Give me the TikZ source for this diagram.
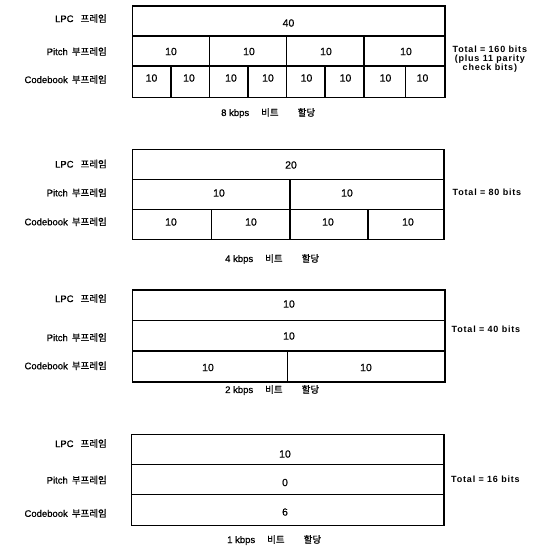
\documentclass[tikz,border=0pt]{standalone}
\usepackage{fontspec}
\setmainfont{Liberation Sans}
\newfontfamily\kr{Noto Sans CJK KR}[FakeBold=0.8]
\newfontfamily\heavy{Liberation Sans}[FakeBold=0.6]
\newfontfamily\totfont{Liberation Sans}[LetterSpace=9]
\tikzset{
  box/.style={line width=1.5pt, line join=miter},
  lab/.style={anchor=east, inner sep=0pt, font=\heavy\fontsize{9.5}{10}\selectfont},
  num/.style={inner sep=0pt, font=\heavy\fontsize{10.5}{11}\selectfont},
  tot/.style={anchor=west, inner sep=0pt, align=center, font=\totfont\bfseries\fontsize{9}{9}\selectfont},
  capt/.style={anchor=west, inner sep=0pt, font=\heavy\fontsize{9.5}{10}\selectfont},
}
\newcommand{\lpclab}{LPC\hspace{7pt}{\kr 프레임}}
\newcommand{\pitchlab}{Pitch\hspace{4pt}{\kr 부프레임}}
\newcommand{\cblab}{Codebook\hspace{4pt}{\kr 부프레임}}
\newcommand{\captxt}[1]{#1 kbps\hspace{12pt}{\kr 비트}\hspace{19pt}{\kr 할당}}
\begin{document}
\begin{tikzpicture}[x=1pt,y=-1pt]
\useasboundingbox (0,0) rectangle (553,550);
% ---------- Block 1: 8 kbps ----------
\draw[box] (132.5,6) rectangle (445,97.5);
\draw[box] (132.5,36) -- (445,36);
\draw[box] (132.5,66) -- (445,66);
\foreach \x in {209.5,286.5,364} \draw[box] (\x,36) -- (\x,97.5);
\foreach \x in {171,248,325,405.5} \draw[box] (\x,66) -- (\x,97.5);
\node[lab] (a1) at (107,18.5) {\lpclab};
\node[lab] (a2) at (107,51.5) {\pitchlab};
\node[lab] (a3) at (107,79.5) {\cblab};
\node[num] (n1) at (288.5,23) {40};
\node[num] (p11) at (171,51.5) {10};
\node[num] (p12) at (249,51.5) {10};
\node[num] (p13) at (326,51.5) {10};
\node[num] (p14) at (406,51.5) {10};
\node[num] (c11) at (151.5,78) {10};
\node[num] (c12) at (189,78) {10};
\node[num] (c13) at (231,78) {10};
\node[num] (c14) at (268,78) {10};
\node[num] (c15) at (306.5,78) {10};
\node[num] (c16) at (345.5,78) {10};
\node[num] (c17) at (385.5,78) {10};
\node[num] (c18) at (422.5,78) {10};
\node[tot] (t1) at (452.5,59) {Total = 160 bits\\(plus 11 parity\\check bits)};
\node[capt] (k1) at (221,113) {\captxt{8}};
% ---------- Block 2: 4 kbps ----------
\draw[box] (132.5,149.3) rectangle (444,239.3);
\draw[box] (132.5,179.3) -- (444,179.3);
\draw[box] (132.5,209.3) -- (444,209.3);
\draw[box] (290,179.3) -- (290,239.3);
\foreach \x in {211.5,368} \draw[box] (\x,209.3) -- (\x,239.3);
\node[lab] (b1) at (107,164) {\lpclab};
\node[lab] (b2) at (107,192.7) {\pitchlab};
\node[lab] (b3) at (107,221.7) {\cblab};
\node[num] (n2) at (291,165) {20};
\node[num] (p21) at (219,193) {10};
\node[num] (p22) at (347,193) {10};
\node[num] (c21) at (171,222) {10};
\node[num] (c22) at (251,222) {10};
\node[num] (c23) at (328,222) {10};
\node[num] (c24) at (408,222) {10};
\node[tot] (t2) at (452.5,192) {Total = 80 bits};
\node[capt] (k2) at (225,259) {\captxt{4}};
% ---------- Block 3: 2 kbps ----------
\draw[box] (132.5,290) rectangle (445,382);
\draw[box] (132.5,320.5) -- (445,320.5);
\draw[box] (132.5,351) -- (445,351);
\draw[box] (287.5,351) -- (287.5,382);
\node[lab] (d1) at (107,298.5) {\lpclab};
\node[lab] (d2) at (107,337.5) {\pitchlab};
\node[lab] (d3) at (107,365.7) {\cblab};
\node[num] (n3) at (289,304) {10};
\node[num] (p31) at (289,336) {10};
\node[num] (c31) at (208,367.5) {10};
\node[num] (c32) at (366,367.5) {10};
\node[tot] (t3) at (451.5,329) {Total = 40 bits};
\node[capt] (k3) at (225,390) {\captxt{2}};
% ---------- Block 4: 1 kbps ----------
\draw[box] (131.7,434.3) rectangle (444,525.7);
\draw[box] (131.7,464.3) -- (444,464.3);
\draw[box] (131.7,494.3) -- (444,494.3);
\node[lab] (e1) at (107,443.5) {\lpclab};
\node[lab] (e2) at (107,480) {\pitchlab};
\node[lab] (e3) at (107,513.3) {\cblab};
\node[num] (n4) at (285,454) {10};
\node[num] (p41) at (285,482.5) {0};
\node[num] (c41) at (285,512) {6};
\node[tot] (t4) at (451,479.5) {Total = 16 bits};
\node[capt] (k4) at (227,540) {\captxt{1}};
\end{tikzpicture}
\end{document}
